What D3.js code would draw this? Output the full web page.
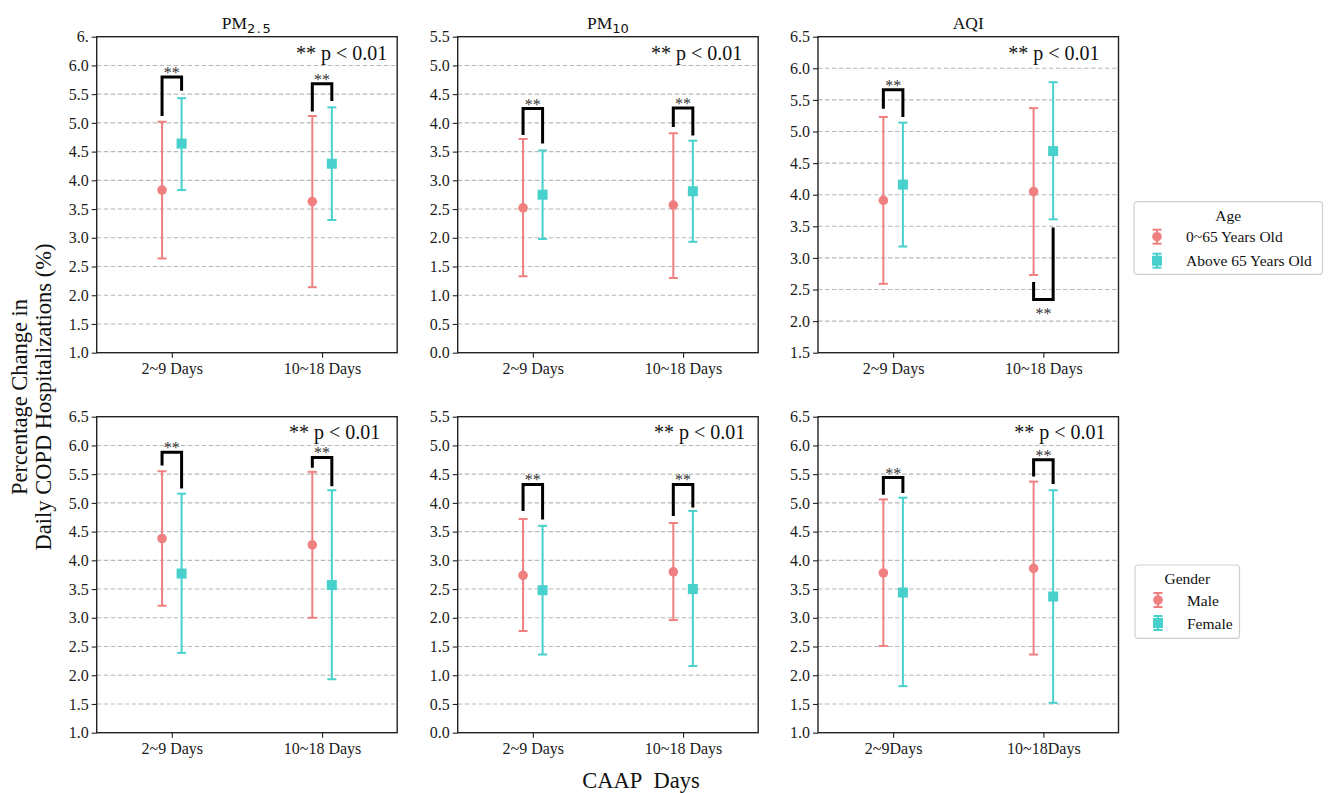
<!DOCTYPE html>
<html>
<head>
<meta charset="utf-8">
<script src="https://cdn.jsdelivr.net/npm/d3@7"></script>
<style>
  body { margin: 0; background: #fff; }
  svg text { font-family: "Liberation Serif", "Times New Roman", serif; }
</style>
</head>
<body>
<svg id="chart" width="1330" height="793"></svg>
<script>
// ---- categories -------------------------------------------------------
const lagLabels = ["2~9 Days", "10~18 Days"];
const lagLabelsCompact = ["2~9Days", "10~18Days"];
const ageGroups = ["0~65 Years Old", "Above 65 Years Old"];
const genderGroups = ["Male", "Female"];

// ---- y axis ranges and tick labels (per pollutant: PM2.5, PM10, AQI) -
const yDomainAge = [[1.0, 6.5], [0.0, 5.5], [1.5, 6.5]];
const yDomainGender = [[1.0, 6.5], [0.0, 5.5], [1.0, 6.5]];
const yTickStep = 0.5;
const pm25AgeTopTickLabel = "6.";

// ---- age-stratified estimates: [2~9 days, 10~18 days] per pollutant ---
const youngMean = [[3.83, 3.63], [2.52, 2.57], [3.91, 4.05]];
const youngLow  = [[2.64, 2.14], [1.33, 1.30], [2.59, 2.73]];
const youngHigh = [[5.02, 5.12], [3.72, 3.82], [5.23, 5.37]];
const oldMean   = [[4.64, 4.29], [2.75, 2.81], [4.16, 4.69]];
const oldLow    = [[3.83, 3.31], [1.98, 1.93], [3.18, 3.61]];
const oldHigh   = [[5.43, 5.27], [3.52, 3.69], [5.14, 5.78]];

// ---- gender-stratified estimates ------------------------------------
const maleMean   = [[4.38, 4.27], [2.74, 2.80], [3.78, 3.86]];
const maleLow    = [[3.21, 3.00], [1.77, 1.96], [2.51, 2.36]];
const maleHigh   = [[5.55, 5.54], [3.72, 3.65], [5.06, 5.37]];
const femaleMean = [[3.77, 3.57], [2.48, 2.50], [3.44, 3.37]];
const femaleLow  = [[2.39, 1.93], [1.36, 1.16], [1.81, 1.52]];
const femaleHigh = [[5.16, 5.22], [3.60, 3.86], [5.09, 5.22]];

// ---- significance brackets: [left leg end, right leg end, bar level] --
const ageBrackets = [
  [[5.12, 5.56, 5.80], [5.20, 5.38, 5.68]],
  [[3.79, 3.64, 4.25], [3.93, 3.78, 4.26]],
  [[5.36, 5.23, 5.66], [2.62, 3.48, 2.34]]
];
const genderBrackets = [
  [[5.65, 5.25, 5.88], [5.61, 5.29, 5.79]],
  [[3.86, 3.71, 4.32], [3.77, 3.92, 4.32]],
  [[5.14, 5.17, 5.44], [5.46, 5.33, 5.75]]
];
const sigMark = "**";
const sigNote = "** p < 0.01";

// ---- styling / layout ----------------------------------------------
const colorA = "#F08080";
const colorB = "#48D1CC";
const colLeft = [96.7, 457.7, 818];
const rowTop = [36.7, 416.7];
const panelW = 300.5, panelH = 316;
const noteInset = [[10, 16, 19], [17, 13, 13]];
const dodge = 0.065;

const svg = d3.select("#chart");

function buildPanel(row, col) {
  const isAge = row === 0;
  const domain = isAge ? yDomainAge[col] : yDomainGender[col];
  const series = isAge
    ? [{ mean: youngMean[col], low: youngLow[col], high: youngHigh[col], color: colorA, shape: "circle" },
       { mean: oldMean[col], low: oldLow[col], high: oldHigh[col], color: colorB, shape: "square" }]
    : [{ mean: maleMean[col], low: maleLow[col], high: maleHigh[col], color: colorA, shape: "circle" },
       { mean: femaleMean[col], low: femaleLow[col], high: femaleHigh[col], color: colorB, shape: "square" }];
  const brackets = isAge ? ageBrackets[col] : genderBrackets[col];
  const xLabels = (!isAge && col === 2) ? lagLabelsCompact : lagLabels;

  const g = svg.append("g").attr("transform", `translate(${colLeft[col]},${rowTop[row]})`);
  const x = d3.scaleLinear().domain([-0.5, 1.5]).range([0, panelW]);
  const y = d3.scaleLinear().domain(domain).range([panelH, 0]);

  const ticks = d3.range(Math.round((domain[1] - domain[0]) / yTickStep) + 1)
    .map(i => +(domain[0] + i * yTickStep).toFixed(2));

  // dashed horizontal grid (interior ticks only)
  g.append("g").selectAll("line")
    .data(ticks.filter(t => t > domain[0] && t < domain[1]))
    .join("line")
    .attr("x1", 0).attr("x2", panelW)
    .attr("y1", d => y(d)).attr("y2", d => y(d))
    .attr("stroke", "#b8b8b8").attr("stroke-width", 1.1)
    .attr("stroke-dasharray", "4.5,2.5");

  // axes
  const yAxis = d3.axisLeft(y).tickValues(ticks).tickSize(5).tickPadding(3)
    .tickFormat(d => (isAge && col === 0 && d === domain[1]) ? pm25AgeTopTickLabel : d3.format(".1f")(d));
  const ya = g.append("g").call(yAxis);
  const xAxis = d3.axisBottom(x).tickValues([0, 1]).tickSize(5).tickPadding(5)
    .tickFormat(i => xLabels[i]);
  const xa = g.append("g").attr("transform", `translate(0,${panelH})`).call(xAxis);
  [ya, xa].forEach(a => {
    a.select(".domain").remove();
    a.selectAll(".tick line").attr("stroke", "#222").attr("stroke-width", 1.1);
    a.selectAll(".tick text").attr("fill", "#1a1a1a").style("font-size", "16px")
      .style("font-family", "'Liberation Serif', 'Times New Roman', serif");
  });

  // error bars with markers
  series.forEach((s, si) => {
    const off = si === 0 ? -dodge : dodge;
    const sg = g.append("g");
    s.mean.forEach((m, i) => {
      const cx = x(i + off);
      sg.append("line").attr("x1", cx).attr("x2", cx)
        .attr("y1", y(s.low[i])).attr("y2", y(s.high[i]))
        .attr("stroke", s.color).attr("stroke-width", 2);
      [s.low[i], s.high[i]].forEach(v => {
        sg.append("line").attr("x1", cx - 4.5).attr("x2", cx + 4.5)
          .attr("y1", y(v)).attr("y2", y(v))
          .attr("stroke", s.color).attr("stroke-width", 2);
      });
      if (s.shape === "circle") {
        sg.append("circle").attr("cx", cx).attr("cy", y(m)).attr("r", 4.8).attr("fill", s.color);
      } else {
        sg.append("rect").attr("x", cx - 5).attr("y", y(m) - 5)
          .attr("width", 10).attr("height", 10).attr("fill", s.color);
      }
    });
  });

  // significance brackets
  brackets.forEach((b, i) => {
    const xl = x(i - dodge), xr = x(i + dodge);
    const [l, r, bar] = b;
    g.append("path")
      .attr("d", `M${xl},${y(l)}V${y(bar)}H${xr}V${y(r)}`)
      .attr("fill", "none").attr("stroke", "#000").attr("stroke-width", 3)
      .attr("stroke-linejoin", "miter");
    const above = bar > Math.max(l, r);
    g.append("text")
      .attr("x", (xl + xr) / 2)
      .attr("y", above ? y(bar) + 1 : y(bar) + 19)
      .attr("text-anchor", "middle")
      .attr("fill", "#333").style("font-size", "16px")
      .text(sigMark);
  });

  // frame
  g.append("rect").attr("width", panelW).attr("height", panelH)
    .attr("fill", "none").attr("stroke", "#222").attr("stroke-width", 1.4);

  // p-value note
  g.append("text")
    .attr("x", panelW - noteInset[row][col])
    .attr("y", row === 0 ? 23.5 : 22)
    .attr("text-anchor", "end")
    .attr("fill", "#111").style("font-size", "20px")
    .text(sigNote);
}

for (let r = 0; r < 2; r++) for (let c = 0; c < 3; c++) buildPanel(r, c);

// ---- panel titles ---------------------------------------------------
const titleY = 29;
function title(cx, main, sub) {
  const t = svg.append("text").attr("x", cx).attr("y", titleY)
    .attr("text-anchor", "middle").attr("fill", "#111").style("font-size", "17.5px");
  t.append("tspan").text(main);
  if (sub) {
    t.append("tspan").attr("dy", 4).style("font-size", "13px")
      .style("font-family", "'DejaVu Sans', sans-serif")
      .style("letter-spacing", sub.includes(".") ? "1.5px" : "0px")
      .text(sub);
  }
}
title(colLeft[0] + panelW / 2, "PM", "2.5");
title(colLeft[1] + panelW / 2, "PM", "10");
title(colLeft[2] + panelW / 2, "AQI", null);

// ---- shared axis titles -------------------------------------------
const yLab = svg.append("g").attr("transform", "translate(0,397) rotate(-90)");
yLab.append("text").attr("x", 0).attr("y", 27).attr("text-anchor", "middle")
  .attr("fill", "#111").style("font-size", "22.5px").text("Percentage Change in");
yLab.append("text").attr("x", 0).attr("y", 51).attr("text-anchor", "middle")
  .attr("fill", "#111").style("font-size", "22.5px").text("Daily COPD Hospitalizations (%)");

svg.append("text").attr("x", 641).attr("y", 788).attr("text-anchor", "middle")
  .attr("fill", "#111").style("font-size", "22.5px").style("white-space", "pre")
  .text("CAAP\u00a0\u00a0Days");

// ---- legends ------------------------------------------------------
function legend(x0, y0, w, h, heading, labels, titleDy, rowDy) {
  const lg = svg.append("g").attr("transform", `translate(${x0},${y0})`);
  lg.append("rect").attr("width", w).attr("height", h).attr("rx", 3)
    .attr("fill", "#fff").attr("stroke", "#cfcfcf").attr("stroke-width", 1.2);
  lg.append("text").attr("x", w / 2).attr("y", titleDy).attr("text-anchor", "middle")
    .attr("fill", "#111").style("font-size", "15.5px").text(heading);
  labels.forEach((lab, i) => {
    const cy = rowDy[i];
    const color = i === 0 ? colorA : colorB;
    const mx = 23;
    lg.append("line").attr("x1", mx).attr("x2", mx).attr("y1", cy - 7).attr("y2", cy + 7)
      .attr("stroke", color).attr("stroke-width", 2);
    [cy - 7, cy + 7].forEach(v => lg.append("line").attr("x1", mx - 4.5).attr("x2", mx + 4.5)
      .attr("y1", v).attr("y2", v).attr("stroke", color).attr("stroke-width", 2));
    if (i === 0) lg.append("circle").attr("cx", mx).attr("cy", cy).attr("r", 4.8).attr("fill", color);
    else lg.append("rect").attr("x", mx - 5).attr("y", cy - 5).attr("width", 10).attr("height", 10).attr("fill", color);
    lg.append("text").attr("x", 52).attr("y", cy + 5.5).attr("fill", "#111")
      .style("font-size", "15.5px").text(lab);
  });
}
legend(1134, 201.7, 188.5, 72.6, "Age", ageGroups, 19, [35, 59]);
legend(1135, 565, 104.5, 73.3, "Gender", genderGroups, 18.5, [35, 58]);
</script>
</body>
</html>
